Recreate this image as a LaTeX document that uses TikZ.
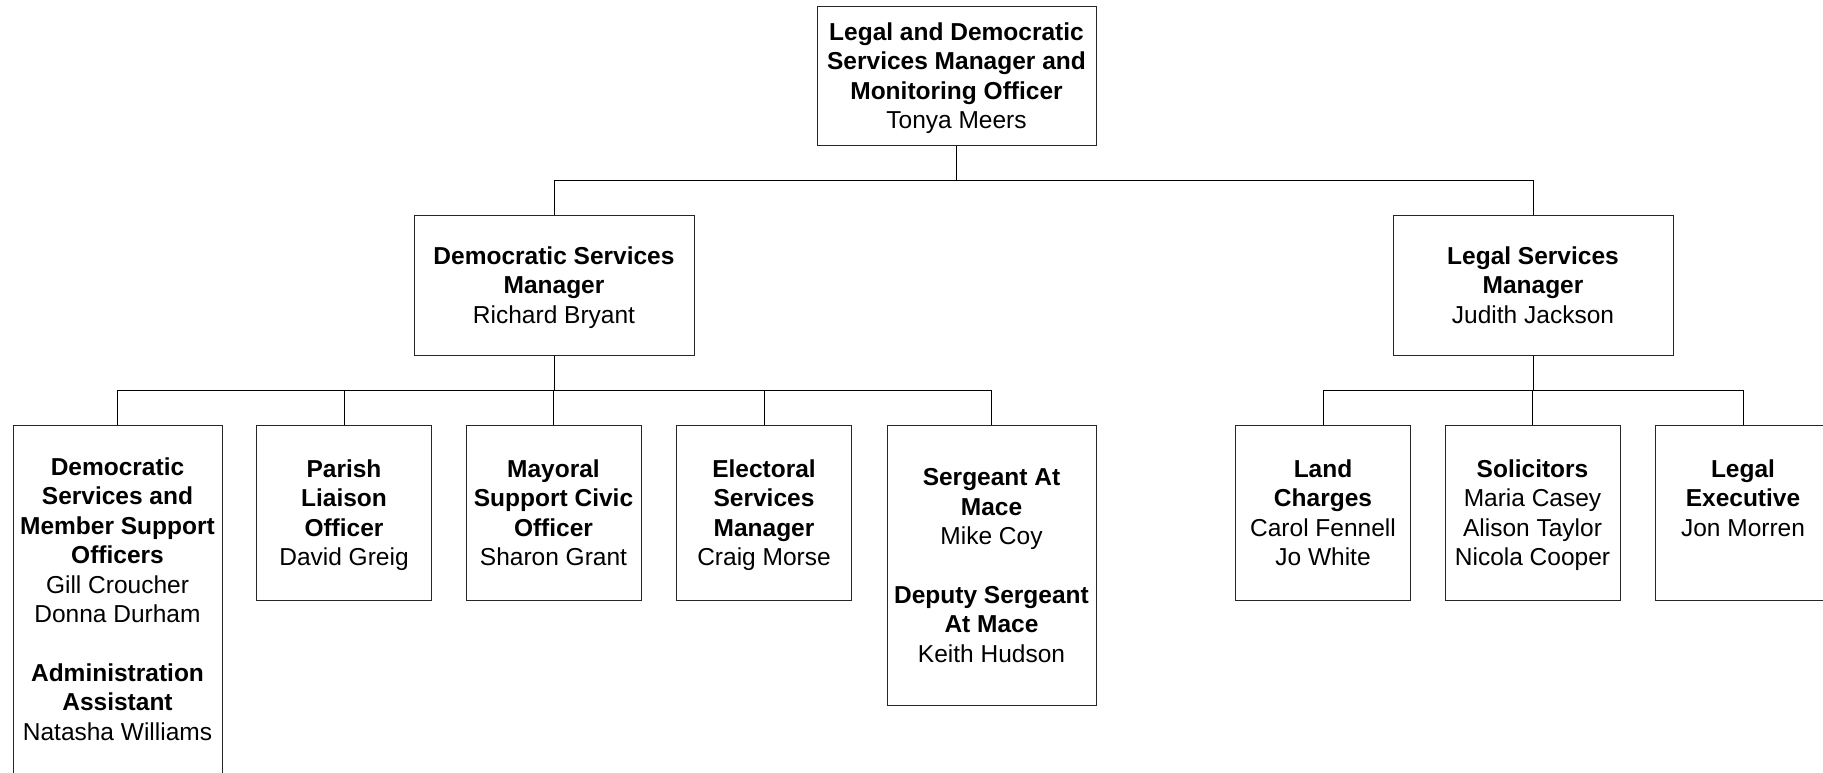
\documentclass[tikz,border=0pt]{standalone}
\usepackage{fontspec}
\setmainfont{Liberation Sans}
% struts that give every text block the same height, set a little low
\newcommand{\topstrut}{\vrule height 26.4pt depth 0pt width 0pt}
\newcommand{\botstrut}{\vrule height 0pt depth 8.8pt width 0pt}
\begin{document}
\begin{tikzpicture}[x=1pt,y=-1pt,
  box/.style={draw=black!85, line width=1pt, fill=white, rectangle, inner sep=0pt,
    align=center, font=\fontsize{24.5}{29.4}\selectfont},
  link/.style={draw=black, line width=1pt}]
\clip (0,0) rectangle (1823,772);
\fill[white] (0,0) rectangle (1823,772);

% bus lines
\coordinate (busA) at (0,180);
\coordinate (busB) at (0,390);

% head of service
\node[box, minimum width=279pt, minimum height=139pt] (head) at (956.5,75.5)
  {\topstrut\textbf{Legal and Democratic}\\\textbf{Services Manager and}\\\textbf{Monitoring Officer}\\Tonya Meers\botstrut};

% managers
\node[box, minimum width=280pt, minimum height=140pt] (dsm) at (554,285)
  {\topstrut\textbf{Democratic Services}\\\textbf{Manager}\\Richard Bryant\botstrut};
\node[box, minimum width=280pt, minimum height=140pt] (lsm) at (1533,285)
  {\topstrut\textbf{Legal Services}\\\textbf{Manager}\\Judith Jackson\botstrut};

% democratic services team
\node[box, minimum width=209pt, minimum height=348pt] (dsmo) at (117.5,599)
  {\topstrut\textbf{Democratic}\\\textbf{Services and}\\\textbf{Member Support}\\\textbf{Officers}\\Gill Croucher\\Donna Durham\\ ~\\\textbf{Administration}\\\textbf{Assistant}\\Natasha Williams\botstrut};
\node[box, minimum width=175pt, minimum height=175pt] (parish) at (344,512.5)
  {\topstrut\textbf{Parish}\\\textbf{Liaison}\\\textbf{Officer}\\David Greig\botstrut};
\node[box, minimum width=175pt, minimum height=175pt] (mayoral) at (553.5,512.5)
  {\topstrut\textbf{Mayoral}\\\textbf{Support Civic}\\\textbf{Officer}\\Sharon Grant\botstrut};
\node[box, minimum width=175pt, minimum height=175pt] (electoral) at (764,512.5)
  {\topstrut\textbf{Electoral}\\\textbf{Services}\\\textbf{Manager}\\Craig Morse\botstrut};
\node[box, minimum width=209pt, minimum height=280pt] (mace) at (991.5,565)
  {\topstrut\textbf{Sergeant At}\\\textbf{Mace}\\Mike Coy\\ ~\\\textbf{Deputy Sergeant}\\\textbf{At Mace}\\Keith Hudson\botstrut};

% legal services team
\node[box, minimum width=175pt, minimum height=175pt] (land) at (1323,512.5)
  {\topstrut\textbf{Land}\\\textbf{Charges}\\Carol Fennell\\Jo White\botstrut};
\node[box, minimum width=175pt, minimum height=175pt] (solicitors) at (1532.5,512.5)
  {\topstrut\textbf{Solicitors}\\Maria Casey\\Alison Taylor\\Nicola Cooper\botstrut};
\node[box, minimum width=175pt, minimum height=175pt] (legalexec) at (1743,512.5)
  {\topstrut\textbf{Legal}\\\textbf{Executive}\\Jon Morren\\ ~\botstrut};

% head to managers
\draw[link] (head.south) -- (head.south |- busA);
\draw[link] (dsm.north) |- (lsm.north |- busA);
\draw[link] (lsm.north) -- (lsm.north |- busA);

% democratic services manager to team
\draw[link] (dsm.south) -- (dsm.south |- busB);
\draw[link] (dsmo.north) |- (mace.north |- busB);
\foreach \n in {parish,mayoral,electoral,mace}
  \draw[link] (\n.north) -- (\n.north |- busB);

% legal services manager to team
\draw[link] (lsm.south) -- (lsm.south |- busB);
\draw[link] (land.north) |- (legalexec.north |- busB);
\foreach \n in {solicitors,legalexec}
  \draw[link] (\n.north) -- (\n.north |- busB);
\end{tikzpicture}
\end{document}
